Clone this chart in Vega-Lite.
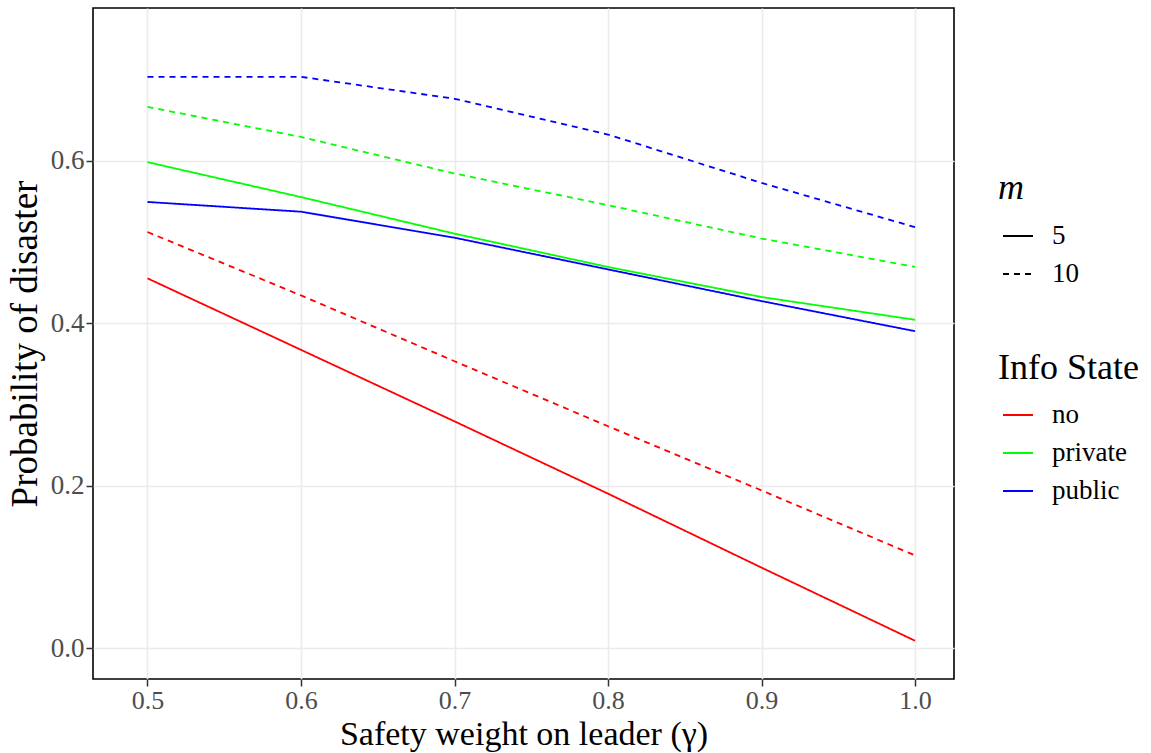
{
  "$schema": "https://vega.github.io/schema/vega-lite/v6.json",
  "width": 861,
  "height": 671,
  "autosize": "none",
  "padding": {"left": 93, "top": 8, "right": 197, "bottom": 74},
  "background": "white",
  "config": {
    "font": "Liberation Serif",
    "view": {"stroke": "black", "strokeWidth": 1.6},
    "axis": {
      "domain": false,
      "grid": true,
      "gridColor": "#EBEBEB",
      "gridWidth": 1.6,
      "tickColor": "#333333",
      "tickWidth": 1.5,
      "tickSize": 7,
      "labelColor": "#4D4D4D",
      "labelFont": "Liberation Serif",
      "labelFontSize": 27,
      "labelPadding": 2,
      "titleFont": "Liberation Serif",
      "titleFontSize": 37,
      "titleFontWeight": "normal",
      "titleColor": "black"
    },
    "legend": {
      "labelFont": "Liberation Serif",
      "labelFontSize": 27,
      "labelColor": "black",
      "titleFont": "Liberation Serif",
      "titleFontSize": 36,
      "titleFontWeight": "normal",
      "titleColor": "black",
      "symbolType": "stroke",
      "symbolSize": 900,
      "symbolStrokeWidth": 1.8,
      "symbolOffset": 4,
      "rowPadding": 9,
      "labelOffset": 18
    }
  },
  "data": {
    "values": [
      {"gamma": 0.5, "p": 0.455, "info": "no", "m": "5"},
      {"gamma": 0.6, "p": 0.367, "info": "no", "m": "5"},
      {"gamma": 0.7, "p": 0.279, "info": "no", "m": "5"},
      {"gamma": 0.8, "p": 0.190, "info": "no", "m": "5"},
      {"gamma": 0.9, "p": 0.099, "info": "no", "m": "5"},
      {"gamma": 1.0, "p": 0.009, "info": "no", "m": "5"},
      {"gamma": 0.5, "p": 0.512, "info": "no", "m": "10"},
      {"gamma": 0.6, "p": 0.434, "info": "no", "m": "10"},
      {"gamma": 0.7, "p": 0.353, "info": "no", "m": "10"},
      {"gamma": 0.8, "p": 0.273, "info": "no", "m": "10"},
      {"gamma": 0.9, "p": 0.194, "info": "no", "m": "10"},
      {"gamma": 1.0, "p": 0.114, "info": "no", "m": "10"},
      {"gamma": 0.5, "p": 0.598, "info": "private", "m": "5"},
      {"gamma": 0.6, "p": 0.555, "info": "private", "m": "5"},
      {"gamma": 0.7, "p": 0.510, "info": "private", "m": "5"},
      {"gamma": 0.8, "p": 0.469, "info": "private", "m": "5"},
      {"gamma": 0.9, "p": 0.432, "info": "private", "m": "5"},
      {"gamma": 1.0, "p": 0.404, "info": "private", "m": "5"},
      {"gamma": 0.5, "p": 0.666, "info": "private", "m": "10"},
      {"gamma": 0.6, "p": 0.629, "info": "private", "m": "10"},
      {"gamma": 0.7, "p": 0.584, "info": "private", "m": "10"},
      {"gamma": 0.8, "p": 0.545, "info": "private", "m": "10"},
      {"gamma": 0.9, "p": 0.504, "info": "private", "m": "10"},
      {"gamma": 1.0, "p": 0.469, "info": "private", "m": "10"},
      {"gamma": 0.5, "p": 0.549, "info": "public", "m": "5"},
      {"gamma": 0.6, "p": 0.537, "info": "public", "m": "5"},
      {"gamma": 0.7, "p": 0.505, "info": "public", "m": "5"},
      {"gamma": 0.8, "p": 0.466, "info": "public", "m": "5"},
      {"gamma": 0.9, "p": 0.427, "info": "public", "m": "5"},
      {"gamma": 1.0, "p": 0.390, "info": "public", "m": "5"},
      {"gamma": 0.5, "p": 0.703, "info": "public", "m": "10"},
      {"gamma": 0.6, "p": 0.703, "info": "public", "m": "10"},
      {"gamma": 0.7, "p": 0.676, "info": "public", "m": "10"},
      {"gamma": 0.8, "p": 0.632, "info": "public", "m": "10"},
      {"gamma": 0.9, "p": 0.5725, "info": "public", "m": "10"},
      {"gamma": 1.0, "p": 0.518, "info": "public", "m": "10"}
    ]
  },
  "mark": {"type": "line", "strokeWidth": 1.8, "clip": true},
  "encoding": {
    "x": {
      "field": "gamma",
      "type": "quantitative",
      "title": "Safety weight on leader (γ)",
      "scale": {"domain": [0.4645, 1.0254], "nice": false, "zero": false},
      "axis": {"values": [0.5, 0.6, 0.7, 0.8, 0.9, 1.0], "format": ".1f", "labelFontSize": 26, "labelPadding": 1, "titlePadding": 4, "titleFontSize": 34}
    },
    "y": {
      "field": "p",
      "type": "quantitative",
      "title": "Probability of disaster",
      "scale": {"domain": [-0.0381, 0.7877], "nice": false, "zero": false},
      "axis": {"values": [0.0, 0.2, 0.4, 0.6], "format": ".1f", "titlePadding": 6}
    },
    "color": {
      "field": "info",
      "type": "nominal",
      "title": "Info State",
      "scale": {"domain": ["no", "private", "public"], "range": ["#FF0000", "#00FF00", "#0000FF"]},
      "legend": {"orient": "none", "legendX": 905, "legendY": 343, "titlePadding": 12, "symbolDash": [1, 0]}
    },
    "strokeDash": {
      "field": "m",
      "type": "nominal",
      "title": "m",
      "sort": ["5", "10"],
      "scale": {"domain": ["5", "10"], "range": [[1, 0], [6, 5]]},
      "legend": {"orient": "none", "legendX": 905, "legendY": 163, "titlePadding": 13, "titleFontStyle": "italic", "symbolStrokeColor": "black"}
    },
    "detail": {"field": "m"}
  }
}
